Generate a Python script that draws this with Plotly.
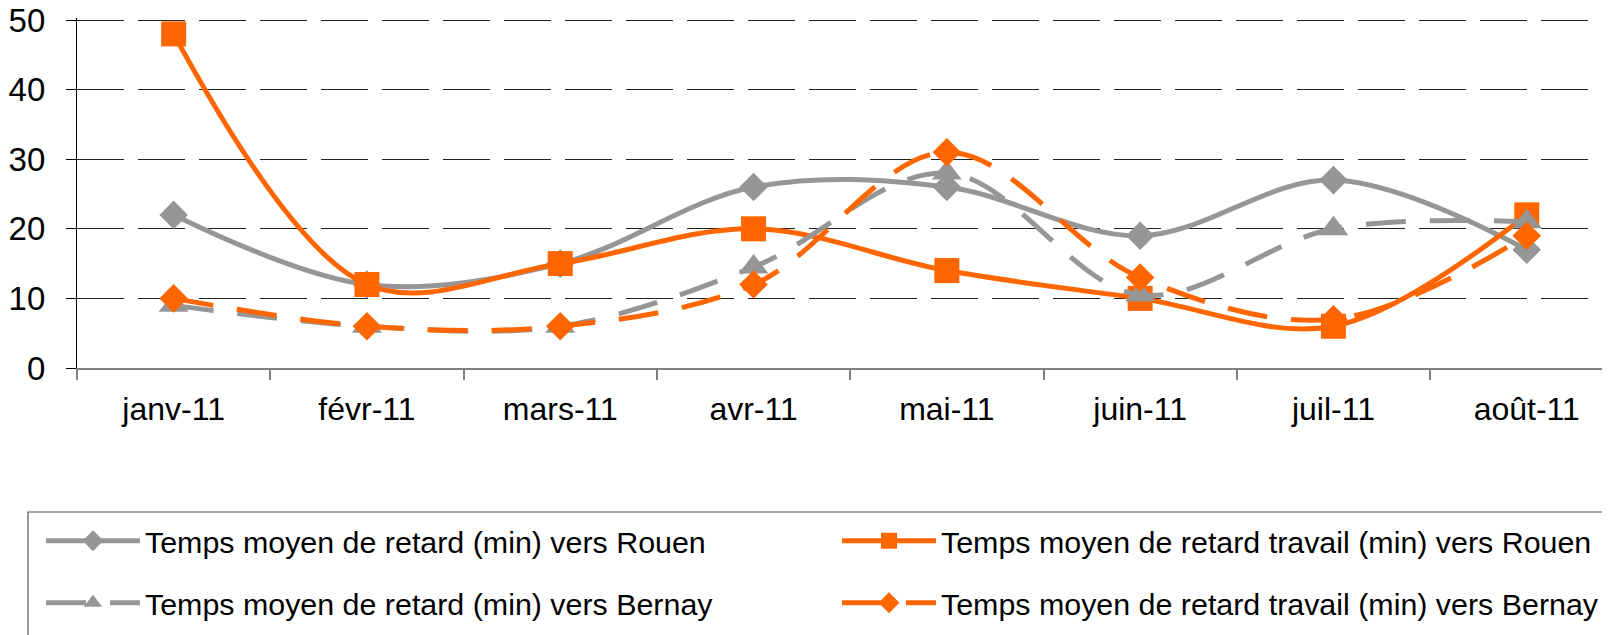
import plotly.graph_objects as go

months = ["janv-11", "févr-11", "mars-11", "avr-11", "mai-11", "juin-11", "juil-11", "août-11"]
retard_rouen = [22, 12, 15, 26, 26, 19, 27, 17]
retard_travail_rouen = [48, 12, 15, 20, 14, 10, 6, 22]
retard_bernay = [9, 6, 6, 14.5, 28, 10.5, 20, 21]
retard_travail_bernay = [10, 6, 6, 12, 31, 13, 7, 19]

GRAY = "#969696"
ORANGE = "#FF6600"
FONT = "Liberation Sans, Arial, sans-serif"
# the page body has an 8px margin, so the figure is offset by 8px
W, H = 1602, 627
PX_PER_UNIT = 348 / 50
Y_TOP = 50 + 2 / PX_PER_UNIT          # keep the 50 gridline 2px inside the plot
ML, MR, MT, MB = 69, 0, 10, 267
PW = W - ML - MR
PH = H - MT - MB
STEP = 193.3

fig = go.Figure()
series = [
    ("Temps moyen de retard (min) vers Rouen", retard_rouen, GRAY, "solid", "diamond", 22, "legend"),
    ("Temps moyen de retard travail (min) vers Rouen", retard_travail_rouen, ORANGE, "solid", "square", 25, "legend2"),
    ("Temps moyen de retard (min) vers Bernay", retard_bernay, GRAY, "40px,24px", "triangle-up", 26, "legend3"),
    ("Temps moyen de retard travail (min) vers Bernay", retard_travail_bernay, ORANGE, "40px,24px", "diamond", 22, "legend4"),
]
for name, vals, col, dash, sym, sz, leg in series:
    fig.add_trace(go.Scatter(
        x=months, y=vals, name=name, mode="lines+markers",
        line=dict(color=col, width=5, dash=dash, shape="spline", smoothing=1),
        marker=dict(symbol=sym, size=sz, color=col),
        cliponaxis=False, legend=leg,
    ))

legend_common = dict(
    orientation="h", xref="container", yref="container",
    xanchor="left", yanchor="middle",
    font=dict(family=FONT, size=30.4, color="black"),
    bgcolor="rgba(0,0,0,0)", borderwidth=0, itemwidth=94,
)
COL1, COL2 = 33, 829
ROW1, ROW2 = 533, 595
fig.update_layout(
    width=W, height=H, autosize=False,
    margin=dict(l=ML, r=MR, t=MT, b=MB, autoexpand=False),
    paper_bgcolor="white", plot_bgcolor="white",
    showlegend=True,
    legend=dict(x=COL1 / W, y=1 - ROW1 / H, **legend_common),
    legend2=dict(x=COL2 / W, y=1 - ROW1 / H, **legend_common),
    legend3=dict(x=COL1 / W, y=1 - ROW2 / H, **legend_common),
    legend4=dict(x=COL2 / W, y=1 - ROW2 / H, **legend_common),
    xaxis=dict(
        type="category", categoryorder="array", categoryarray=months,
        range=[-0.5, -0.5 + PW / STEP], automargin=False,
        showgrid=False, zeroline=False,
        showline=True, linecolor="#808080", linewidth=1.5,
        ticks="outside", tickson="boundaries", ticklen=10, tickcolor="#808080", tickwidth=1.5,
        tickfont=dict(family=FONT, size=32, color="black"),
        ticklabelstandoff=12, ticklabeloverflow="allow",
    ),
    yaxis=dict(
        range=[0, Y_TOP], tickvals=[0, 10, 20, 30, 40, 50], automargin=False,
        showgrid=True, gridcolor="#222222", gridwidth=1.2, griddash="47px,14px",
        zeroline=False,
        showline=True, linecolor="black", linewidth=1.2,
        ticks="outside", ticklen=10, tickcolor="black",
        tickfont=dict(family=FONT, size=33, color="black"),
        ticklabelstandoff=14, ticklabeloverflow="allow",
    ),
    shapes=[dict(
        type="rect", xref="paper", yref="paper",
        x0=(20 - ML) / PW, x1=1.05,
        y0=(MT + PH - 504) / PH, y1=(MT + PH - 700) / PH,
        line=dict(color="#555555", width=1.2), fillcolor="rgba(0,0,0,0)",
    )],
)

fig.write_html("out.html")
